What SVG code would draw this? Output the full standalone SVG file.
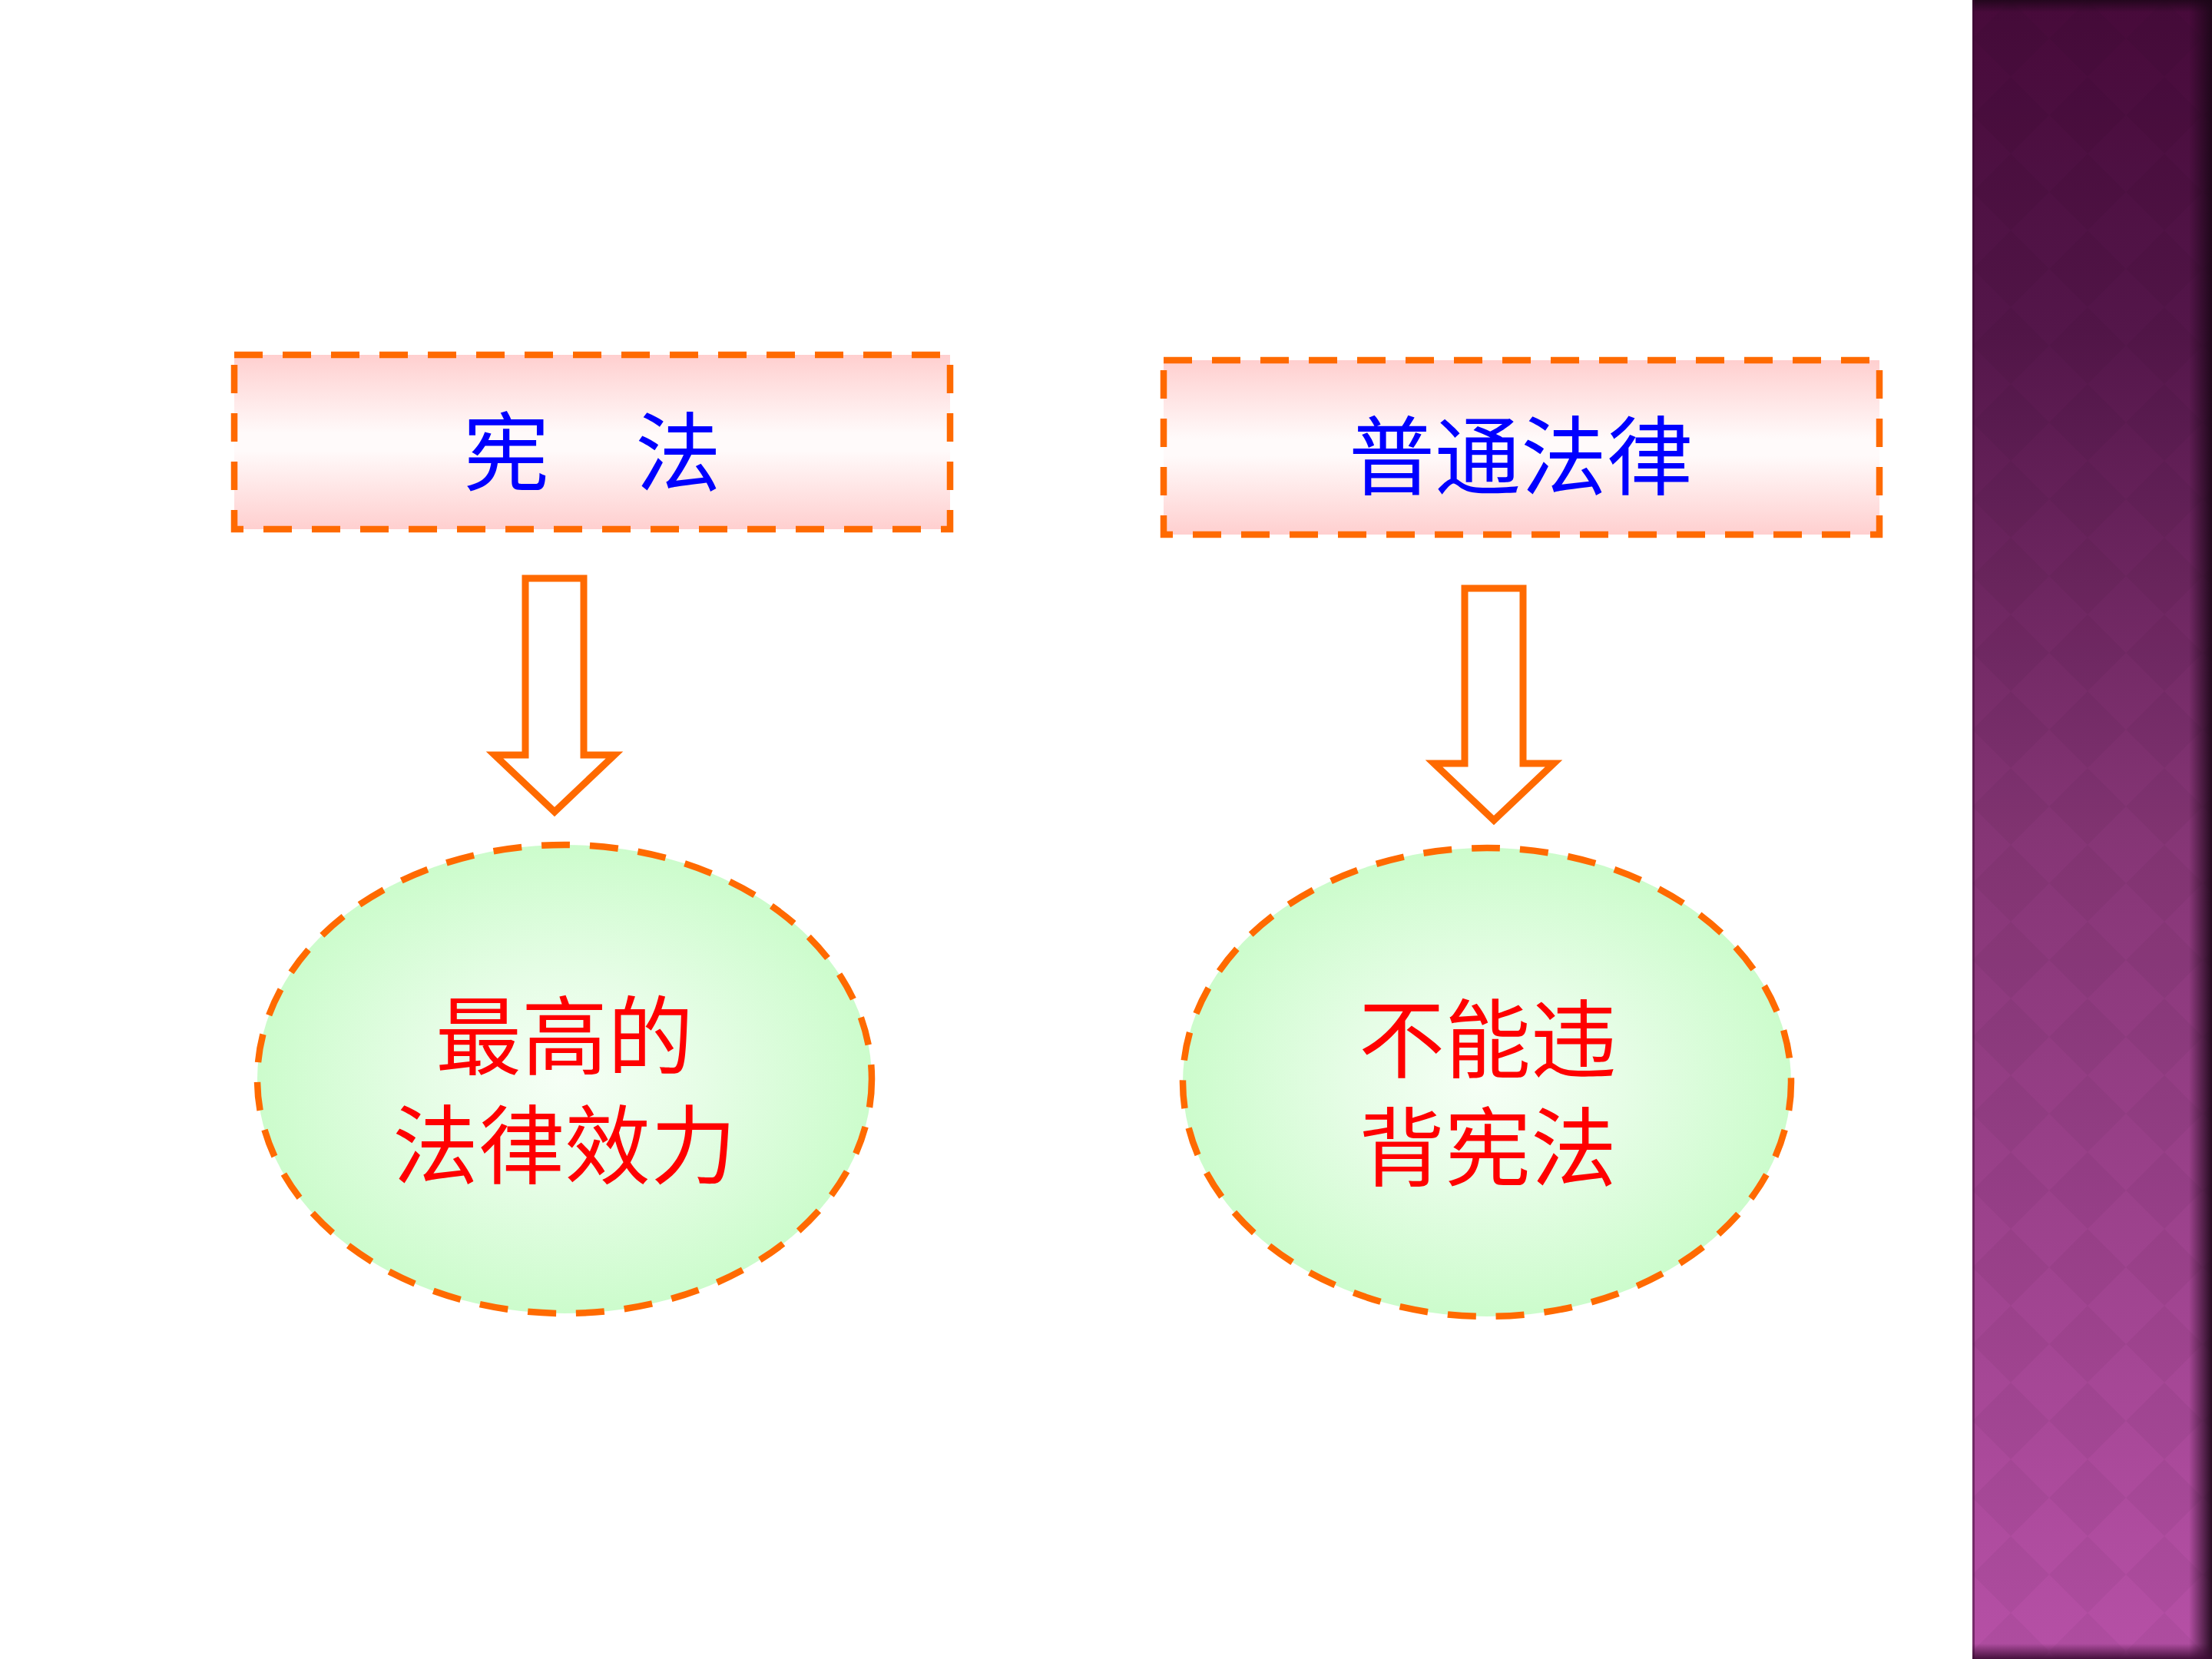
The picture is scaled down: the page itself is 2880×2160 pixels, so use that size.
<svg xmlns="http://www.w3.org/2000/svg" width="2880" height="2160" viewBox="0 0 2880 2160">
  <defs>
    <linearGradient id="rectFill" x1="0" y1="0" x2="0" y2="1">
      <stop offset="0" stop-color="#ffcfcf"/>
      <stop offset="0.45" stop-color="#fffafa"/>
      <stop offset="0.55" stop-color="#fffafa"/>
      <stop offset="1" stop-color="#ffcfcf"/>
    </linearGradient>
    <radialGradient id="ellFill" cx="0.5" cy="0.5" r="0.5">
      <stop offset="0" stop-color="#f6fff6"/>
      <stop offset="0.45" stop-color="#e6fde6"/>
      <stop offset="1" stop-color="#ccfccc"/>
    </radialGradient>
    <linearGradient id="sideFill" x1="0" y1="0" x2="0" y2="1">
      <stop offset="0" stop-color="#470a3a"/>
      <stop offset="0.2" stop-color="#54164a"/>
      <stop offset="0.5" stop-color="#853575"/>
      <stop offset="1" stop-color="#b650a6"/>
    </linearGradient>
    <pattern id="diamonds" x="2568" y="0" width="100" height="100" patternUnits="userSpaceOnUse">
      <polygon points="50,0 100,50 50,100 0,50" fill="#000000" fill-opacity="0.04"/>
    </pattern>
    <linearGradient id="rightShade" x1="0" y1="0" x2="1" y2="0">
      <stop offset="0" stop-color="#1a0616" stop-opacity="0"/>
      <stop offset="1" stop-color="#1a0616" stop-opacity="0.9"/>
    </linearGradient>
    <linearGradient id="topShade" x1="0" y1="0" x2="0" y2="1">
      <stop offset="0" stop-color="#1a0616" stop-opacity="0.8"/>
      <stop offset="1" stop-color="#1a0616" stop-opacity="0"/>
    </linearGradient>
    <linearGradient id="botShade" x1="0" y1="0" x2="0" y2="1">
      <stop offset="0" stop-color="#3a0a32" stop-opacity="0"/>
      <stop offset="1" stop-color="#3a0a32" stop-opacity="0.9"/>
    </linearGradient>
  </defs>
  <style>
    .box { fill: url(#rectFill); stroke: #ff6a00; stroke-width: 8.5; stroke-dasharray: 37 26; }
    .oval { fill: url(#ellFill); stroke: #ff6a00; stroke-width: 8.5; stroke-dasharray: 37 26; }
    .arrow { fill: #ffffff; stroke: #ff6a00; stroke-width: 9; stroke-linejoin: miter; }
    .t { font-family: "Noto Sans CJK SC", sans-serif; font-size: 112px; text-anchor: middle; dominant-baseline: central; }
    .blue { fill: #0000ff; }
    .red { fill: #ff0000; }
  </style>

  <rect x="0" y="0" width="2880" height="2160" fill="#ffffff"/>

  <g id="sidebar">
    <rect x="2568" y="0" width="312" height="2160" fill="url(#sideFill)"/>
    <rect x="2568" y="0" width="312" height="2160" fill="url(#diamonds)"/>
    <rect x="2850" y="0" width="30" height="2160" fill="url(#rightShade)"/>
    <rect x="2568" y="0" width="312" height="16" fill="url(#topShade)"/>
    <rect x="2568" y="2140" width="312" height="20" fill="url(#botShade)"/>
    <rect x="2568" y="0" width="3" height="2160" fill="#3a0a32" fill-opacity="0.5"/>
  </g>

  <g id="node-xianfa">
    <rect class="box" x="305" y="462" width="932" height="227"/>
    <text class="t blue" x="771" y="582">宪　法</text>
  </g>

  <g id="node-putongfalv">
    <rect class="box" x="1515" y="469" width="932" height="227"/>
    <text class="t blue" x="1980" y="587">普通法律</text>
  </g>

  <g id="node-zuigao">
    <ellipse class="oval" cx="735" cy="1405" rx="400" ry="305"/>
    <text class="t red"><tspan x="735" y="1342">最高的</tspan><tspan x="735" y="1484">法律效力</tspan></text>
  </g>

  <g id="node-buneng">
    <ellipse class="oval" cx="1936" cy="1409" rx="396" ry="305"/>
    <text class="t red"><tspan x="1937" y="1346">不能违</tspan><tspan x="1937" y="1487">背宪法</tspan></text>
  </g>

  <g id="connectors">
    <path class="arrow" d="M684,753 H760 V983 H800 L722,1057 L644,983 H684 Z"/>
    <path class="arrow" d="M1907,766 H1983 V994 H2023 L1945,1068 L1867,994 H1907 Z"/>
  </g>
</svg>
